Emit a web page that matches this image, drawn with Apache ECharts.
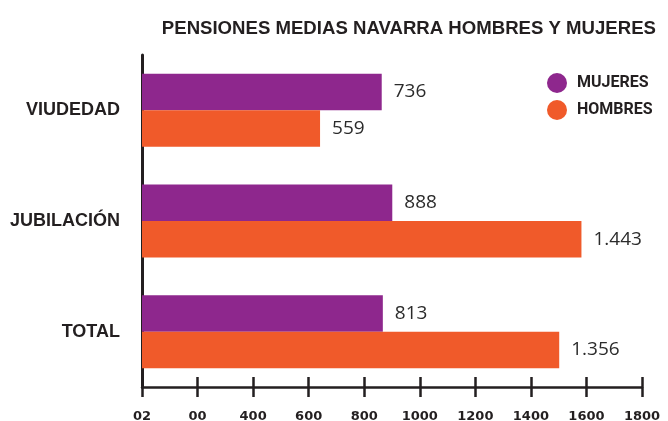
<!DOCTYPE html>
<html>
<head>
<meta charset="utf-8">
<script src="https://cdn.jsdelivr.net/npm/echarts@6/dist/echarts.min.js"></script>
<style>
  html, body { margin: 0; padding: 0; background: #fff; }
  #main { width: 668px; height: 421px; }
</style>
</head>
<body>
<div id="main"></div>
<script>
// categorias (de arriba a abajo)
const categorias = ['VIUDEDAD', 'JUBILACIÓN', 'TOTAL'];
// longitud de las barras leida sobre el eje
const mujeres = [863, 901, 867];
const hombres = [641, 1582, 1502];
// etiquetas tal como aparecen impresas
const etiquetasMujeres = ['736', '888', '813'];
const etiquetasHombres = ['559', '1.443', '1.356'];
// marcas del eje x
const ticksX = ['02', '00', '400', '600', '800', '1000', '1200', '1400', '1600', '1800'];

const oscuro = '#231f20';
const morado = '#8e278d';
const naranja = '#f05a2a';

var myChart = echarts.init(document.getElementById('main'));

const etiquetaValor = function (lista) {
  return {
    show: true,
    position: 'right',
    distance: 12,
    color: '#2b2b2b',
    fontFamily: 'Open Sans',
    fontSize: 19,
    formatter: function (p) { return lista[p.dataIndex]; }
  };
};

var option = {
  animation: false,
  title: {
    text: 'PENSIONES MEDIAS NAVARRA HOMBRES Y MUJERES',
    right: 7,
    top: 14,
    textStyle: {
      color: oscuro,
      fontFamily: 'Liberation Sans',
      fontWeight: 'bold',
      fontSize: 18.6
    }
  },
  legend: {
    orient: 'vertical',
    left: 542,
    top: 68,
    itemWidth: 20,
    itemHeight: 20,
    itemGap: 7,
    icon: 'circle',
    textStyle: {
      color: oscuro,
      fontFamily: 'Roboto',
      fontWeight: 'bold',
      fontSize: 16,
      padding: [0, 0, 0, 5]
    },
    data: ['MUJERES', 'HOMBRES']
  },
  grid: {
    left: 142,
    right: 26,
    top: 55,
    bottom: 34,
    containLabel: false,
    outerBoundsMode: 'none'
  },
  xAxis: [
    {
      type: 'value',
      min: 0,
      max: 1800,
      interval: 200,
      axisLine: { show: true, lineStyle: { color: oscuro, width: 2.5 } },
      axisTick: { show: true, length: 10, lineStyle: { color: oscuro, width: 2.5 } },
      splitLine: { show: false },
      axisLabel: {
        margin: 23,
        color: oscuro,
        fontFamily: 'DejaVu Sans',
        fontWeight: 'bold',
        fontSize: 13,
        formatter: function (v) { return ticksX[Math.round(v / 200)]; }
      }
    },
    {
      // marcas hacia dentro para que crucen la linea
      type: 'value',
      position: 'bottom',
      min: 0,
      max: 1800,
      interval: 200,
      axisLine: { show: false },
      axisTick: { show: true, inside: true, length: 10, lineStyle: { color: oscuro, width: 2.5 } },
      axisLabel: { show: false },
      splitLine: { show: false }
    }
  ],
  yAxis: {
    type: 'category',
    inverse: true,
    data: categorias,
    axisLine: { show: true, lineStyle: { color: oscuro, width: 3 } },
    axisTick: { show: false },
    axisLabel: {
      margin: 22,
      color: oscuro,
      fontFamily: 'Liberation Sans',
      fontWeight: 'bold',
      fontSize: 18
    }
  },
  series: [
    {
      name: 'MUJERES',
      type: 'bar',
      data: mujeres,
      itemStyle: { color: morado },
      barGap: '0%',
      barCategoryGap: '34%',
      label: etiquetaValor(etiquetasMujeres)
    },
    {
      name: 'HOMBRES',
      type: 'bar',
      data: hombres,
      itemStyle: { color: naranja },
      barGap: '0%',
      barCategoryGap: '34%',
      label: etiquetaValor(etiquetasHombres)
    }
  ]
};

myChart.setOption(option);
</script>
</body>
</html>
